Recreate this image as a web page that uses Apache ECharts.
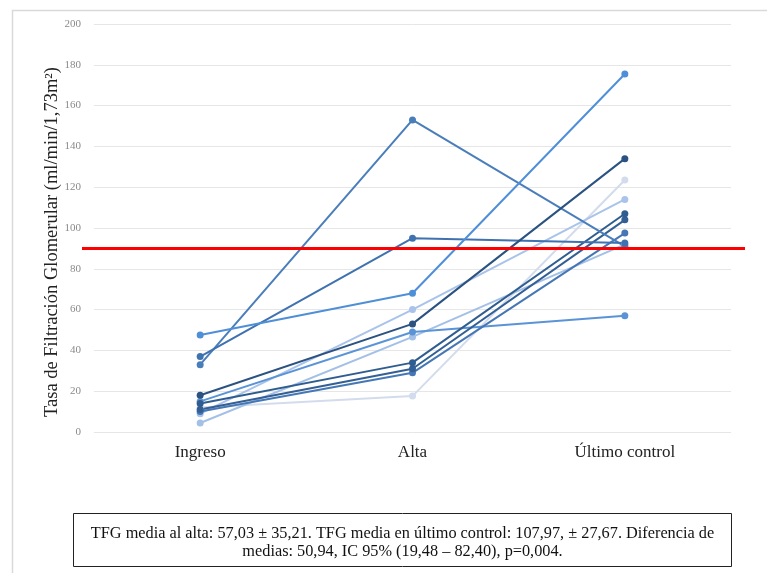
<!DOCTYPE html>
<html>
<head>
<meta charset="utf-8">
<script src="https://cdn.jsdelivr.net/npm/echarts@6/dist/echarts.min.js"></script>
<style>
html,body{margin:0;padding:0;background:#fff;}
#chart{width:767px;height:573px;}
</style>
</head>
<body>
<div id="chart"></div>
<script>
const categories = ['Ingreso', 'Alta', 'Último control'];
const yTicks = [0, 20, 40, 60, 80, 100, 120, 140, 160, 180, 200];
const referenceValue = 90;

const patient01 = [33, 153, 91];
const patient02 = [37, 95, 92.6];
const patient03 = [47.5, 68, 175.5];
const patient04 = [18, 53, 134];
const patient05 = [9, 60, 114];
const patient06 = [15, 49, 57];
const patient07 = [4.4, 46.6, 92];
const patient08 = [14, 34, 107];
const patient09 = [11, 31, 104];
const patient10 = [10, 29, 97.5];
const patient11 = [12, 17.6, 123.5];

const patients = [patient11, patient07, patient05, patient06, patient10, patient09, patient08, patient01, patient02, patient03, patient04];
const colors = ['#d3dced', '#a3c0e6', '#a9c3ea', '#5a94d6', '#4677b5', '#335f94', '#2f5d8f', '#4a7ebb', '#3f72af', '#4f8fd8', '#2b5280'];

const chart = echarts.init(document.getElementById('chart'));
const serif = 'Liberation Serif, Times New Roman, serif';

const series = patients.map((d, i) => ({
  type: 'line',
  xAxisIndex: 0, yAxisIndex: 0,
  data: d,
  symbol: 'circle',
  symbolSize: 7,
  lineStyle: { color: colors[i], width: 2 },
  itemStyle: { color: colors[i] },
  z: 3,
  animation: false
}));

series.push({
  type: 'line',
  xAxisIndex: 1, yAxisIndex: 1,
  data: [[0, referenceValue], [1, referenceValue]],
  symbol: 'none',
  lineStyle: { color: '#ff0000', width: 3 },
  z: 5,
  animation: false
});

chart.setOption({
  backgroundColor: '#ffffff',
  animation: false,
  grid: [
    { left: 94, right: 36, top: 24, bottom: 141 },
    { left: 82, right: 22, top: 24, bottom: 141 }
  ],
  xAxis: [
    {
      type: 'category', gridIndex: 0, data: categories, boundaryGap: true,
      axisLine: { show: false }, axisTick: { show: false },
      axisLabel: { color: '#222', fontFamily: serif, fontSize: 17, margin: 12 }
    },
    { type: 'value', gridIndex: 1, min: 0, max: 1, show: false }
  ],
  yAxis: [
    {
      type: 'value', gridIndex: 0, min: yTicks[0], max: yTicks[yTicks.length - 1], interval: 20,
      name: 'Tasa de Filtración Glomerular (ml/min/1,73m²)',
      nameLocation: 'middle', nameGap: 32, nameRotate: 90, nameMoveOverlap: false,
      nameTextStyle: { color: '#222', fontFamily: serif, fontSize: 18.5, padding: [0, 28, 0, 0] },
      axisLine: { show: false }, axisTick: { show: false },
      axisLabel: { color: '#8a8a8a', fontFamily: serif, fontSize: 11, margin: 13 },
      splitLine: { lineStyle: { color: '#e6e6e6', width: 1 } }
    },
    { type: 'value', gridIndex: 1, min: 0, max: 200, show: false }
  ],
  series: series,
  graphic: [
    {
      type: 'rect', left: 10, top: 8, silent: true, z: 0,
      shape: { width: 900, height: 700 },
      style: { fill: 'none', stroke: '#d9d9d9', lineWidth: 1.5 }
    },
    {
      type: 'group', left: 73, top: 513,
      children: [
        { type: 'rect', shape: { x: 0, y: 0, width: 658, height: 53 },
          style: { fill: '#fff', stroke: '#222', lineWidth: 1 } },
        { type: 'text', x: 329, y: 20,
          style: { text: 'TFG media al alta: 57,03 ± 35,21. TFG media en último control: 107,97, ± 27,67. Diferencia de',
            font: '16.3px ' + serif, fill: '#111', align: 'center', verticalAlign: 'middle' } },
        { type: 'text', x: 329, y: 38,
          style: { text: 'medias: 50,94, IC 95% (19,48 – 82,40), p=0,004.',
            font: '16.3px ' + serif, fill: '#111', align: 'center', verticalAlign: 'middle' } }
      ]
    }
  ]
});
</script>
</body>
</html>
